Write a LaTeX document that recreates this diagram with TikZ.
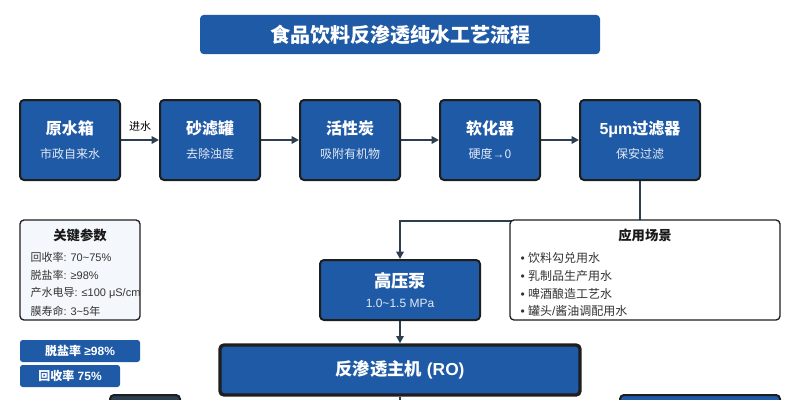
\documentclass[tikz,border=0pt]{standalone}
\usepackage{fontspec}
\setmainfont{Noto Sans CJK SC}
\newfontfamily\lat{Liberation Sans}
\usetikzlibrary{arrows.meta}
\definecolor{procblue}{HTML}{1F5AA6}
\definecolor{edgedark}{HTML}{1E1E1E}
\definecolor{flowline}{HTML}{2C3E50}
\definecolor{paramfill}{HTML}{F4F7FB}
\definecolor{subwhite}{HTML}{E3EAF5}
\tikzset{every picture/.style={line width=0.75pt}}
\tikzset{
	procbox/.style={draw=edgedark, fill=procblue, rounded corners=3pt, line width=1.5pt, text=white, align=center, inner sep=0pt},
	flow/.style={draw=flowline, line width=1.5pt, -{Triangle[length=5.5pt,width=5.5pt]}},
	infobox/.style={draw=edgedark, rounded corners=3pt, line width=1pt, inner sep=0pt},
	badge/.style={fill=procblue, rounded corners=2pt, text=white, font=\bfseries\fontsize{9}{11}\selectfont, inner sep=0pt, minimum height=16.5pt},
	infoline/.style={anchor=west, inner sep=0pt, text=black!80, font=\fontsize{8.25}{10}\selectfont},
	appline/.style={infoline, font=\fontsize{9}{11}\selectfont},
	infotitle/.style={inner sep=0pt, text=black!90, font=\bfseries\fontsize{10}{12}\selectfont},
}
\newcommand{\stagetext}[2]{{\bfseries\fontsize{12}{14}\selectfont #1}\\[6pt]{\color{subwhite}\fontsize{9}{11}\selectfont #2}}

\begin{document}
\begin{tikzpicture}[x=0.75pt,y=0.75pt,yscale=-1,xscale=1]
	\useasboundingbox (0,0) rectangle (800,400);
	\clip (0,0) rectangle (800,400);
	
	% title bar
	\node [fill=procblue, rounded corners=3pt, minimum width=300pt, minimum height=29.5pt, text=white, font=\bfseries\fontsize{15}{18}\selectfont] (title) at (400,34.5) {食品饮料反渗透纯水工艺流程};
	
	% pretreatment stages
	\node [procbox, minimum width=75pt, minimum height=60pt] (tank) at (70,140) {\stagetext{原水箱}{市政自来水}};
	\node [procbox, minimum width=75pt, minimum height=60pt] (sand) at (210,140) {\stagetext{砂滤罐}{去除浊度}};
	\node [procbox, minimum width=75pt, minimum height=60pt] (carbon) at (350,140) {\stagetext{活性炭}{吸附有机物}};
	\node [procbox, minimum width=75pt, minimum height=60pt] (soft) at (490,140) {\stagetext{软化器}{硬度{\lat\small →}0}};
	\node [procbox, minimum width=90pt, minimum height=60pt] (micron) at (640,140) {\stagetext{{\lat 5μm}过滤器}{保安过滤}};
	
	% high pressure pump
	\node [procbox, minimum width=120pt, minimum height=45pt] (pump) at (400,290) {{\bfseries\fontsize{13}{15}\selectfont 高压泵}\\[3pt]{\color{subwhite}\lat\fontsize{9}{11}\selectfont 1.0\textasciitilde1.5 MPa}};
	
	\draw [flow] (tank) -- node [above=6pt, inner sep=0pt, text=black, font=\fontsize{8.25}{10}\selectfont] (inlet) {进水} (sand);
	\draw [flow] (sand) -- (carbon);
	\draw [flow] (carbon) -- (soft);
	\draw [flow] (soft) -- (micron);
	\draw [flow] (micron.south) -- ++(0,40) -| (pump.north);
	
	% key parameters
	\node [infobox, fill=paramfill, minimum width=90pt, minimum height=75pt] (params) at (80,270) {};
	\node [infotitle] (paramhead) at (80,235) {关键参数};
	\node [infoline] (prm1) at (30,257) {回收率{\lat : 70\textasciitilde75\%}};
	\node [infoline] (prm2) at (30,275) {脱盐率{\lat : ≥98\%}};
	\node [infoline] (prm3) at (30,293) {产水电导{\lat : ≤100 μS/cm}};
	\node [infoline] (prm4) at (30,311) {膜寿命{\lat : 3\textasciitilde5}年};
	
	% applications
	\node [infobox, fill=white, minimum width=202.5pt, minimum height=75pt] (apps) at (645,270) {};
	\node [infotitle] (appshead) at (645,235) {应用场景};
	\node [appline] (app1) at (520,258) {{\lat • }饮料勾兑用水};
	\node [appline] (app2) at (520,276) {{\lat • }乳制品生产用水};
	\node [appline] (app3) at (520,294) {{\lat • }啤酒酿造工艺水};
	\node [appline] (app4) at (520,311) {{\lat • }罐头{\lat /}酱油调配用水};
	
	% reverse osmosis unit
	\node [procbox, line width=2.5pt, minimum width=270pt, minimum height=37.5pt, font=\bfseries\fontsize{13}{15}\selectfont] (ro) at (400,370) {反渗透主机{\lat\ (RO)}};
	\draw [flow] (pump) -- (ro);
	
	% badges
	\node [badge, minimum width=90pt] (rejbadge) at (80,351) {脱盐率{\lat\ ≥98\%}};
	\node [badge, minimum width=75pt] (recbadge) at (70,376) {回收率{\lat\ 75\%}};
	
	% outlets (cut off below)
	\node [draw=edgedark, fill=flowline, rounded corners=3pt, line width=1.5pt, minimum width=52.5pt, minimum height=45pt] (brine) at (145,425) {};
	\node [procbox, minimum width=120pt, minimum height=45pt] (product) at (700,425) {};
	\coordinate (rodown) at (400,430);
	\draw [flow] (ro) -- (rodown);
	
\end{tikzpicture}
\end{document}
